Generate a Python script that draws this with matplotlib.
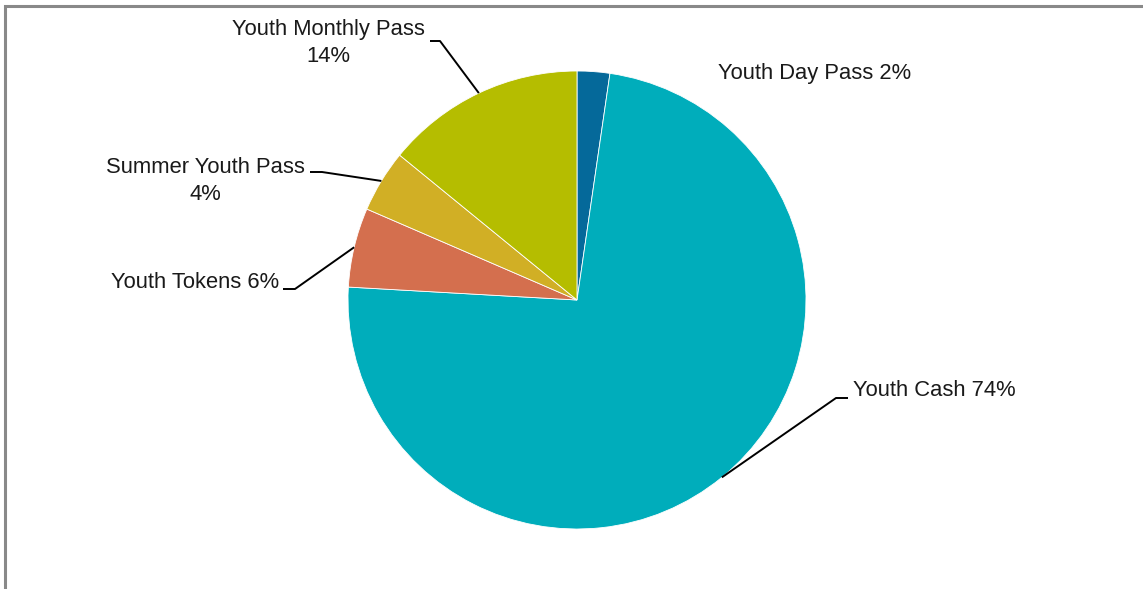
import numpy as np
import matplotlib
matplotlib.use("Agg")
import matplotlib.pyplot as plt

# Youth fare media share (%)
categories = ["Youth Day Pass", "Youth Cash", "Youth Tokens",
              "Summer Youth Pass", "Youth Monthly Pass"]
shares = [2.3, 73.6, 5.6, 4.4, 14.1]
colors = ["#05699A", "#00ADBB", "#D46F4E", "#D1AF25", "#B5BD00"]

W, H = 1143, 589
fig = plt.figure(figsize=(W / 100, H / 100), dpi=100)
ax = fig.add_axes([0, 0, 1, 1])

cx, cy, r = 577, H - 300, 229
wedges, _ = ax.pie(shares, colors=colors, startangle=90, counterclock=False,
                   center=(cx, cy), radius=r, frame=True,
                   wedgeprops=dict(edgecolor="white", linewidth=0.6))
ax.set_xlim(0, W)
ax.set_ylim(0, H)
ax.set_aspect("equal")
ax.axis("off")

font = dict(family=["Liberation Sans Narrow", "Liberation Sans", "DejaVu Sans"],
            size=15.8, color="#1a1a1a")

def label_text(i, two_lines=False):
    sep = "\n" if two_lines else " "
    return f"{categories[i]}{sep}{round(shares[i]):.0f}%"

def edge_point(i):
    start = 90 - sum(shares[:i]) * 3.6
    mid = start - shares[i] * 1.8
    a = np.deg2rad(mid)
    return cx + r * np.cos(a), cy + r * np.sin(a)

# label layout: (elbow x, elbow y, end x, text x, text y, ha, two lines)
layout = {
    1: (836, 398, 848, 853, 390, "left", False),
    2: (295, 289, 283, 279, 282, "right", False),
    3: (322, 172, 310, 205, 181, "center", True),
    4: (440, 41, 430, 328, 43, "center", True),
}

for i, (ex, ey, endx, tx, ty, ha, two) in layout.items():
    sx, sy = edge_point(i)
    ax.plot([sx, ex, endx], [sy, H - ey, H - ey], color="black", lw=1.4,
            solid_capstyle="butt", zorder=3)
    ax.text(tx, H - ty, label_text(i, two), ha=ha, va="center",
            multialignment="center", linespacing=1.4, **font)

# Day pass label sits beside its slice
ax.text(718, H - 74, label_text(0), ha="left", va="center", **font)

# chart area border
ax.plot([4.5, 4.5, W + 5], [-5, H - 5.5, H - 5.5], color="#898989", lw=2.2,
        solid_joinstyle="miter", zorder=4, clip_on=False)

fig.savefig("out.png", dpi=100)
